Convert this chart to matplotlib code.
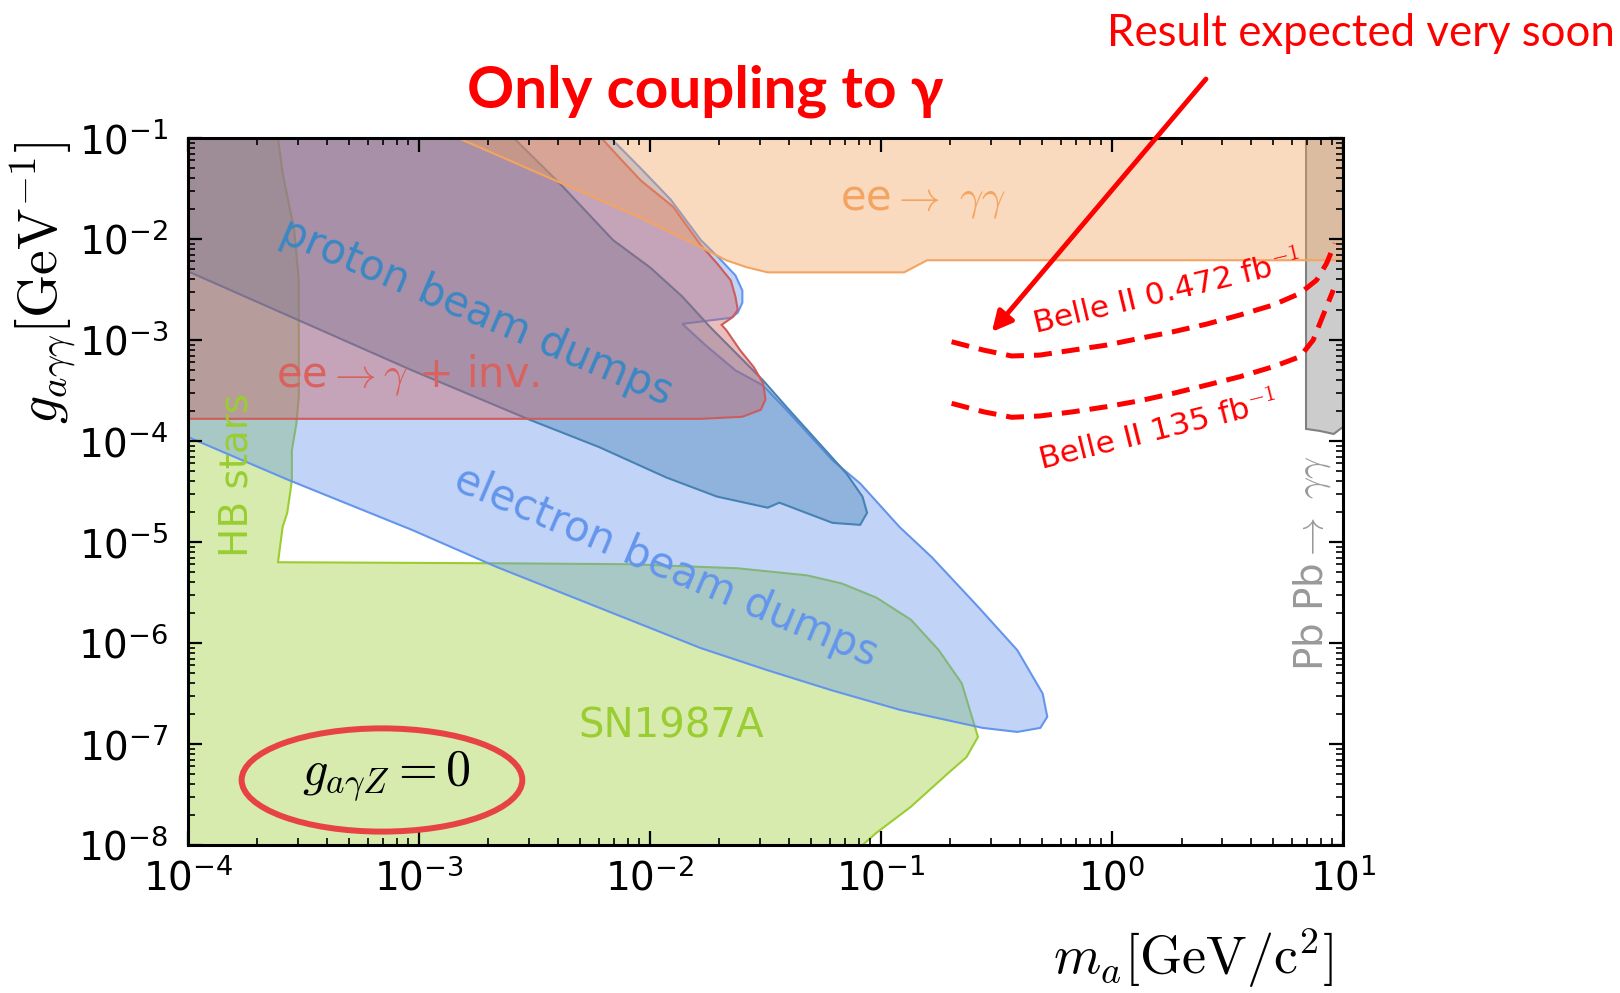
import matplotlib
matplotlib.use('Agg')
import matplotlib.pyplot as plt
import numpy as np
from matplotlib.colors import to_rgba
from matplotlib.patches import Ellipse
from matplotlib.ticker import LogLocator, NullFormatter

plt.rcParams['font.family'] = 'DejaVu Sans'
plt.rcParams['mathtext.fontset'] = 'cm'

# excluded regions, outlines given as (log10 m_a [GeV], log10 g_agg [GeV^-1])
hb_sn_logm = [-4.0, -3.61, -3.59, -3.54, -3.52, -3.52, -3.53, -3.55, -3.55, -3.57,
              -3.59, -3.61, -2.69, -2.08, -1.62, -1.32, -1.17, -1.02, -0.87, -0.75,
              -0.65, -0.58, -0.63, -0.71, -0.87, -1.02, -1.08, -4.0]
hb_sn_logg = [-1.0, -1.0, -1.35, -1.91, -2.41, -3.56, -3.82, -4.09, -4.39, -4.71,
              -4.85, -5.20, -5.21, -5.22, -5.26, -5.33, -5.41, -5.55, -5.77, -6.07,
              -6.40, -6.93, -7.13, -7.29, -7.62, -7.88, -8.0, -8.0]

electron_logm = [-4.0, -3.56, -3.03, -2.66, -1.78, -1.49, -1.21, -0.92, -0.56, -0.41,
                 -0.31, -0.28, -0.30, -0.41, -0.58, -0.78, -0.92, -1.09, -1.21, -1.41,
                 -1.51, -1.63, -1.76, -1.86, -1.65, -1.62, -1.60, -1.60, -1.63, -1.70,
                 -1.78, -1.91, -2.04, -2.17, -4.0]
electron_logg = [-3.96, -4.39, -4.88, -5.25, -6.05, -6.27, -6.47, -6.66, -6.84, -6.88,
                 -6.84, -6.73, -6.50, -6.07, -5.64, -5.15, -4.85, -4.42, -4.19, -3.69,
                 -3.45, -3.30, -3.05, -2.84, -2.78, -2.73, -2.63, -2.51, -2.36, -2.19,
                 -2.01, -1.61, -1.30, -1.0, -1.0]

proton_logm = [-2.59, -2.39, -2.16, -2.00, -1.86, -1.74, -1.61, -1.51, -1.41, -1.28,
               -1.15, -1.08, -1.06, -1.09, -1.21, -1.44, -1.49, -1.71, -1.93, -2.22,
               -2.52, -3.03, -4.0, -4.0]
proton_logg = [-1.0, -1.45, -2.01, -2.28, -2.57, -2.87, -3.17, -3.40, -3.66, -3.99,
               -4.32, -4.55, -4.71, -4.83, -4.81, -4.61, -4.66, -4.55, -4.36, -4.06,
               -3.79, -3.30, -2.32, -1.0]

ee_inv_logm = [-4.0, -2.21, -2.13, -2.04, -1.90, -1.78, -1.71, -1.65, -1.63, -1.62,
               -1.64, -1.69, -1.67, -1.61, -1.55, -1.51, -1.50, -1.52, -1.60, -1.78, -4.0]
ee_inv_logg = [-1.0, -1.0, -1.20, -1.42, -1.68, -2.06, -2.24, -2.41, -2.57, -2.70,
               -2.77, -2.85, -2.90, -3.10, -3.27, -3.43, -3.59, -3.69, -3.76, -3.78, -3.78]

ee_gg_logm = [-2.83, -2.04, -1.78, -1.67, -1.58, -1.49, -0.90, -0.80, 1.0, 1.0]
ee_gg_logg = [-1.0, -1.79, -2.08, -2.21, -2.28, -2.33, -2.33, -2.21, -2.21, -1.0]

pbpb_logm = [0.84, 0.84, 0.90, 0.96, 1.0, 1.0]
pbpb_logg = [-1.0, -3.88, -3.90, -3.93, -3.86, -1.0]

# Belle II projected sensitivity
belle_low_logm = [-0.694, -0.557, -0.434, -0.312, -0.167, -0.023, 0.121, 0.265, 0.410,
                  0.554, 0.698, 0.814, 0.886, 0.929, 0.965]
belle_low_logg = [-3.017, -3.099, -3.158, -3.149, -3.099, -3.050, -2.983, -2.918, -2.842,
                  -2.752, -2.653, -2.538, -2.406, -2.241, -2.043]
belle_high_logm = [-0.694, -0.557, -0.434, -0.312, -0.167, -0.023, 0.121, 0.265, 0.410,
                   0.554, 0.698, 0.814, 0.871, 0.900, 0.929, 0.958]
belle_high_logg = [-3.627, -3.710, -3.765, -3.752, -3.710, -3.660, -3.601, -3.528, -3.446,
                   -3.363, -3.264, -3.165, -3.000, -2.835, -2.670, -2.505]

fig = plt.figure(figsize=(16.2, 9.93), dpi=100)
ax = fig.add_axes([0.116, 0.149, 0.713, 0.712])
ax.set_xscale('log')
ax.set_yscale('log')
ax.set_xlim(1e-4, 1e1)
ax.set_ylim(1e-8, 1e-1)


def excluded(logm, logg, color, z):
    ax.fill(10 ** np.asarray(logm), 10 ** np.asarray(logg),
            facecolor=to_rgba(color, 0.4), edgecolor=color, lw=1.5, zorder=z)


excluded(pbpb_logm, pbpb_logg, 'gray', 1.0)
excluded(hb_sn_logm, hb_sn_logg, 'yellowgreen', 1.1)
excluded(electron_logm, electron_logg, 'cornflowerblue', 1.2)
excluded(proton_logm, proton_logg, 'steelblue', 1.3)
excluded(ee_inv_logm, ee_inv_logg, 'indianred', 1.4)
excluded(ee_gg_logm, ee_gg_logg, 'sandybrown', 1.5)

ax.plot(10 ** np.asarray(belle_low_logm), 10 ** np.asarray(belle_low_logg),
        color='red', lw=3.6, dashes=(3.6, 2.0), zorder=2.6)
ax.plot(10 ** np.asarray(belle_high_logm), 10 ** np.asarray(belle_high_logg),
        color='red', lw=3.6, dashes=(3.6, 2.0), zorder=2.6)

# region labels
ax.text(10 ** -2.75, 10 ** -2.72, 'proton beam dumps', rotation=-23, color='#3a87c4',
        fontsize=30, ha='center', va='center', rotation_mode='anchor')
ax.text(10 ** -3.05, 10 ** -3.35, r'ee$\rightarrow\gamma$ + inv.', color='#d9625f',
        fontsize=30, ha='center', va='center')
ax.text(10 ** -1.93, 10 ** -5.24, 'electron beam dumps', rotation=-23,
        color='cornflowerblue', fontsize=30, ha='center', va='center',
        rotation_mode='anchor')
ax.text(10 ** -3.79, 10 ** -4.34, 'HB stars', rotation=90, color='yellowgreen',
        fontsize=28, ha='center', va='center')
ax.text(10 ** -1.91, 10 ** -6.83, 'SN1987A', color='yellowgreen', fontsize=29,
        ha='center', va='center')
ax.text(10 ** -0.82, 10 ** -1.61, r'ee$\rightarrow\ \gamma\gamma$', color='sandybrown',
        fontsize=30, ha='center', va='center')
ax.text(10 ** 0.866, 10 ** -5.21, r'Pb Pb$\rightarrow\ \gamma\gamma$', rotation=90,
        color='#999999', fontsize=28, ha='center', va='center')
ax.text(10 ** 0.24, 10 ** -2.54, r'Belle II 0.472 fb$^{-1}$', rotation=13.5, color='red',
        fontsize=22.5, ha='center', va='center', rotation_mode='anchor')
ax.text(10 ** 0.20, 10 ** -3.91, r'Belle II 135 fb$^{-1}$', rotation=14, color='red',
        fontsize=22.5, ha='center', va='center', rotation_mode='anchor')

ax.add_patch(Ellipse((0.168, 0.092), 0.243, 0.146, transform=ax.transAxes,
                     fill=False, edgecolor='#e84343', lw=4.3, zorder=3))
ax.text(0.172, 0.097, r'$g_{a\gamma Z}=0$', transform=ax.transAxes, fontsize=36,
        ha='center', va='center')

# axes styling
for sp in ax.spines.values():
    sp.set_linewidth(2.2)
for axis in (ax.xaxis, ax.yaxis):
    axis.set_major_locator(LogLocator(base=10, numticks=12))
    axis.set_minor_locator(LogLocator(base=10, subs=np.arange(2, 10), numticks=12))
    axis.set_minor_formatter(NullFormatter())
ax.tick_params(which='both', direction='in', top=True, right=True)
ax.tick_params(which='major', length=10, width=1.6, labelsize=28)
ax.tick_params(which='minor', length=5, width=1.2)
ax.tick_params(axis='x', which='major', pad=10)
ax.tick_params(axis='y', which='major', pad=14)

ax.set_ylabel(r'$g_{a\gamma\gamma}[\mathrm{GeV}^{-1}]$', fontsize=40)
ax.yaxis.set_label_coords(-0.094, 0.796)
ax.set_xlabel(r'$m_a[\mathrm{GeV/c}^2]$', fontsize=39, ha='right')
ax.xaxis.set_label_coords(0.991, -0.115)

# slide annotations
fig.text(0.435, 0.892, 'Only coupling to γ', fontsize=42, fontweight='bold', color='red',
         family=['Lato', 'DejaVu Sans'], ha='center', va='baseline')
fig.text(0.997, 0.954, 'Result expected very soon', fontsize=31.5, color='red',
         family=['Lato', 'DejaVu Sans'], ha='right', va='baseline')
ax.annotate('', xy=(10 ** -0.52, 10 ** -2.92), xycoords='data',
            xytext=(0.7444, 0.9204), textcoords='figure fraction',
            arrowprops=dict(arrowstyle='-|>', color='red', lw=3.5, mutation_scale=30,
                            shrinkA=0, shrinkB=0),
            annotation_clip=False)

fig.savefig('out.png', dpi=100)
